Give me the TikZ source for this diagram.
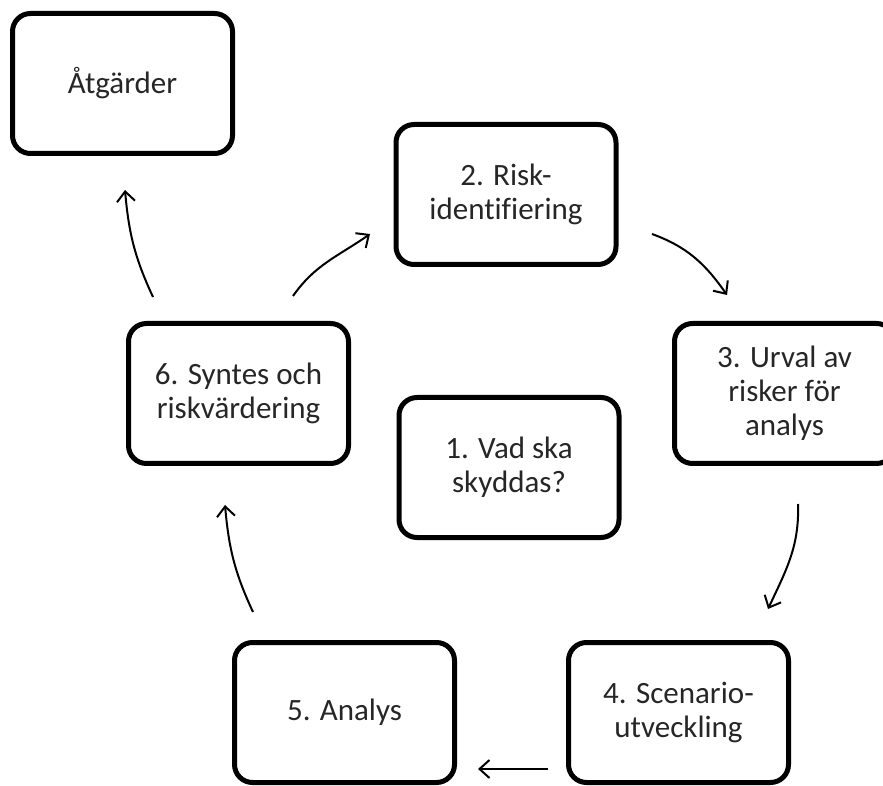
\documentclass[tikz,border=0pt]{standalone}
\usepackage{fontspec}
\setmainfont{Carlito}[Ligatures=CommonOff]
\usepackage{tikz}
\usetikzlibrary{arrows.meta,positioning}
\definecolor{rktext}{RGB}{38,38,38}
\tikzstyle{stepbox} = [rectangle, rounded corners=18pt, minimum width=220pt, minimum height=140pt, align=center, draw=black, line width=5pt, text=rktext, font=\fontsize{31}{34}\selectfont]
\tikzstyle{flow} = [line width=2pt, -{Straight Barb[length=10pt,width=18pt]}, color=black]

\begin{document}
\begin{tikzpicture}[x=1pt, y=1pt]
\useasboundingbox (0,0) rectangle (883,785);
% Boxes
\node (atg) [stepbox] at (122.5,701.5) {Åtgärder};
\node (vad) [stepbox] at (509,317.5) {1. Vad ska\\skyddas?};
\node (risk) [stepbox] at (506,590.5) {2. Risk-\\identifiering};
\node (syn) [stepbox] at (238.5,391.5) {6. Syntes och\\riskvärdering};
\node (urv) [stepbox, right of=syn, node distance=546pt] {3. Urval av\\risker för\\analys};
\node (ana) [stepbox] at (344.5,72.5) {5. Analys};
\node (scen) [stepbox, right of=ana, node distance=334pt] {4. Scenario-\\utveckling};

% Cycle
\draw[flow] ([shift={(54.5,25)}]syn.north) to[out=55, in=215] ([shift={(-23.5,-39.5)}]risk.west);
\draw[flow] ([shift={(33.5,-39.5)}]risk.east) to[out=-20, in=125] ([shift={(-57.5,26)}]urv.north);
\draw[flow] ([shift={(13.5,-38)}]urv.south) to[out=-88, in=65] ([shift={(89.5,31)}]scen.north);
\draw[flow] ([shift={(-18,-56.5)}]scen.west) -- ([shift={(21,-56.5)}]ana.east);
\draw[flow] ([shift={(-91.5,28)}]ana.north) to[out=115, in=-85] ([shift={(-13.5,-39)}]syn.south);
\draw[flow] ([shift={(-85.5,24)}]syn.north) to[out=115, in=-85] ([shift={(2.5,-34)}]atg.south);
\end{tikzpicture}
\end{document}
